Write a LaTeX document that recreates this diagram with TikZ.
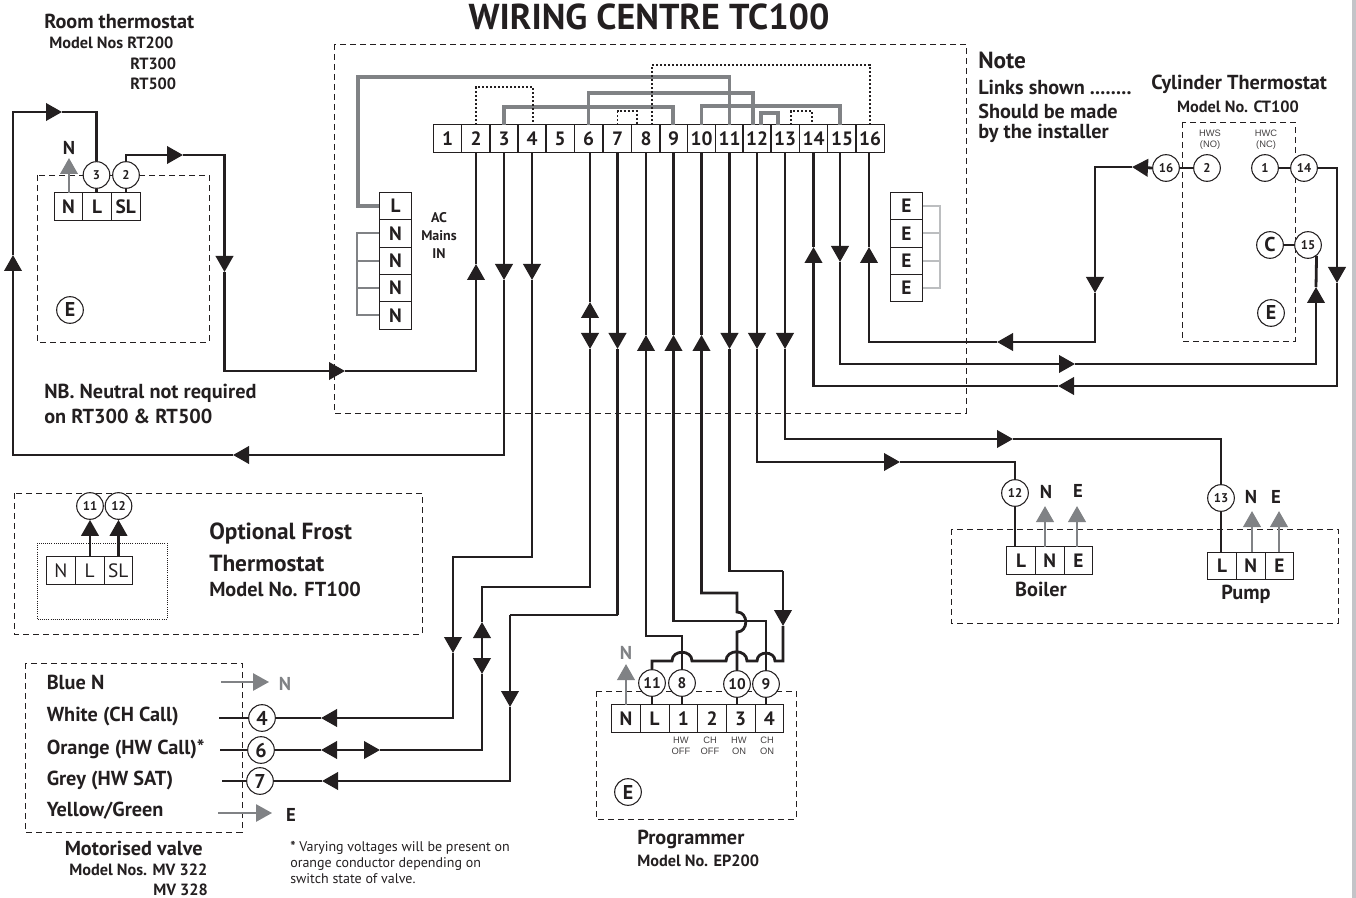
\documentclass[tikz,border=0pt]{standalone}
\usepackage{fontspec}
\setmainfont{PT Sans}
\newfontfamily\thinfont{Liberation Sans}
\usetikzlibrary{arrows.meta,calc,chains,positioning}
\definecolor{wireblack}{HTML}{231F20}
\definecolor{wiregrey}{HTML}{808285}
\definecolor{earthgrey}{HTML}{BCBEC0}
\definecolor{edgegrey}{HTML}{C4C4C8}
\tikzset{
    zone/.style = {
        draw=wireblack,
        line width=0.7pt,
        dash pattern=on 4.5pt off 3pt,
        },
    wire/.style = {
        draw=wireblack,
        line width=2.1pt,
        },
    wire head/.style = {
        wire,
        -{Triangle[length=12pt,width=13pt]},
        },
    wire heads/.style = {
        wire,
        {Triangle[length=12pt,width=13pt]}-{Triangle[length=12pt,width=13pt]},
        },
    grey head/.style = {
        draw=wiregrey,
        line width=2.1pt,
        -{Triangle[length=12pt,width=13pt]},
        },
    link/.style = {
        draw=wiregrey,
        line width=2.3pt,
        },
    thin link/.style = {
        draw=wiregrey,
        line width=1.6pt,
        },
    earth link/.style = {
        draw=earthgrey,
        line width=1.6pt,
        },
    installer link/.style = {
        draw=wireblack,
        line width=1.3pt,
        dash pattern=on 1.5pt off 1.5pt,
        },
    stub/.style = {
        draw=wireblack,
        line width=1.6pt,
        },
    Block/.style = {
        draw=wireblack,
        line width=0.7pt,
        minimum width=21.5pt,
        minimum height=20.5pt,
        inner sep=0pt,
        outer sep=0pt,
        font=\bfseries\fontsize{14.5}{14.5}\selectfont,
        text=wireblack,
        },
    ChainBlock/.style = {Block, on chain},
    WideBlock/.style = {ChainBlock, minimum width=24.5pt},
    pin/.style = {
        circle,
        draw=wireblack,
        fill=white,
        line width=0.8pt,
        minimum size=20pt,
        inner sep=0pt,
        font=\bfseries\fontsize{9.5}{9.5}\selectfont,
        text=wireblack,
        },
    big pin/.style = {
        pin,
        font=\bfseries\fontsize{15}{15}\selectfont,
        },
    prog pin/.style = {
        pin,
        font=\bfseries\fontsize{11.5}{11.5}\selectfont,
        },
    headline/.style = {
        anchor=west,
        inner sep=0pt,
        text=wireblack,
        font=\bfseries\fontsize{15.2}{15.2}\selectfont,
        },
    subline/.style = {
        anchor=west,
        inner sep=0pt,
        text=wireblack,
        font=\bfseries\fontsize{12.2}{12.2}\selectfont,
        },
    bigline/.style = {
        headline,
        font=\bfseries\fontsize{17.5}{17.5}\selectfont,
        },
    letter/.style = {
        inner sep=0pt,
        text=wireblack,
        font=\bfseries\fontsize{14}{14}\selectfont,
        },
    tag/.style = {
        inner sep=0pt,
        text=wireblack!85,
        align=center,
        font=\thinfont\fontsize{7}{8.2}\selectfont,
        },
}

\begin{document}
\begin{tikzpicture}[x=0.75pt,y=-0.75pt]
    \useasboundingbox (0,0) rectangle (1356,898);
    \fill[edgegrey] (1352,0) rectangle (1356,898);

    \node[inner sep=0pt,text=wireblack,font=\bfseries\fontsize{27}{27}\selectfont] (title) at (649,17) {WIRING CENTRE TC100};

    % dashed outlines
    \draw[zone] (334,44) rectangle (966,413);
    \draw[zone] (37,175) rectangle (209,342);
    \draw[zone] (14,493) rectangle (422,634);
    \draw[zone] (25,663) rectangle (242,832);
    \draw[zone] (596,691) rectangle (796,819);
    \draw[zone] (951,529) rectangle (1338,623);
    \draw[zone] (1182,122) rectangle (1295,341);
    \draw[draw=wireblack,line width=0.6pt,densely dotted] (37,543) rectangle (167,619);

    % terminal strip
    \foreach \tx/\tn in {447.5/1,476/2,504/3,532/4,560/5,588.5/6,617.5/7,646/8,673.5/9,701.5/10,729.5/11,757/12,785/13,813.5/14,842/15,870/16}
        \node[Block] (t\tn) at (\tx,138.5) {\tn};

    % mains block
    \begin{scope}[start chain=going below, node distance=0pt]
    \node[WideBlock] (mL) at (395.5,206) {L};
    \node[WideBlock] (mN1) {N};
    \node[WideBlock] (mN2) {N};
    \node[WideBlock] (mN3) {N};
    \node[WideBlock] (mN4) {N};
    \end{scope}
    \begin{scope}[start chain=going below, node distance=0pt]
    \node[WideBlock] (eE1) at (906.5,206) {E};
    \node[WideBlock] (eE2) {E};
    \node[WideBlock] (eE3) {E};
    \node[WideBlock] (eE4) {E};
    \end{scope}
    \node[inner sep=0pt,align=center,text=wireblack,font=\bfseries\fontsize{10.5}{13.5}\selectfont] (acin) at (439,236) {AC\\Mains\\IN};

    % thermostat, frost, programmer, boiler and pump blocks
    \begin{scope}[start chain=going right, node distance=0pt]
    \node[ChainBlock] (rN) at (68.5,206.5) {N};
    \node[ChainBlock] (rL) {L};
    \node[ChainBlock] (rSL) {SL};
    \end{scope}
    \begin{scope}[start chain=going right, node distance=0pt]
    \node[ChainBlock,font=\fontsize{14.5}{14.5}\selectfont] (fN) at (61,570.5) {N};
    \node[ChainBlock,font=\fontsize{14.5}{14.5}\selectfont] (fL) {L};
    \node[ChainBlock,font=\fontsize{14.5}{14.5}\selectfont] (fSL) {SL};
    \end{scope}
    \begin{scope}[start chain=going right, node distance=0pt]
    \node[ChainBlock] (pN) at (626,718.5) {N};
    \node[ChainBlock] (pL) {L};
    \node[ChainBlock] (p1) {1};
    \node[ChainBlock] (p2) {2};
    \node[ChainBlock] (p3) {3};
    \node[ChainBlock] (p4) {4};
    \end{scope}
    \begin{scope}[start chain=going right, node distance=0pt]
    \node[ChainBlock] (bL) at (1021,560.5) {L};
    \node[ChainBlock] (bN) {N};
    \node[ChainBlock] (bE) {E};
    \end{scope}
    \begin{scope}[start chain=going right, node distance=0pt]
    \node[ChainBlock] (uL) at (1222,566) {L};
    \node[ChainBlock] (uN) {N};
    \node[ChainBlock] (uE) {E};
    \end{scope}

    % numbered pins
    \node[pin] (rt3) at (96.5,175) {3};
    \node[pin] (rt2) at (126,175) {2};
    \node[big pin] (rtE) at (70,310) {E};
    \node[pin] (f11) at (90,506) {11};
    \node[pin] (f12) at (118.5,506) {12};
    \node[big pin] (v4) at (262,718) {4};
    \node[big pin] (v6) at (261,750) {6};
    \node[big pin] (v7) at (260,781) {7};
    \node[prog pin] (pc11) at (652,683) {11};
    \node[prog pin] (pc8) at (682,683) {8};
    \node[prog pin] (pc10) at (737,684) {10};
    \node[prog pin] (pc9) at (766,684) {9};
    \node[big pin] (pcE) at (628,792) {E};
    \node[pin] (cy16) at (1166,168) {16};
    \node[pin] (cy2) at (1207,168) {2};
    \node[pin] (cy1) at (1265,168) {1};
    \node[pin] (cy14) at (1304,168) {14};
    \node[big pin] (cyC) at (1270,245) {C};
    \node[pin] (cy15) at (1308,245) {15};
    \node[big pin] (cyE) at (1271,313) {E};
    \node[pin] (bc12) at (1015,493) {12};
    \node[pin] (uc13) at (1221,498) {13};

    % links on the strip
    \coordinate (lk11) at (358,77);
    \coordinate (lk612) at (753,93);
    \coordinate (lk39) at (673,107);
    \coordinate (lk1015) at (840,106);
    \coordinate (lk12) at (761,113);
    \coordinate (lk13) at (778,113);
    \draw[link] (mL.west) -| (lk11) -| (t11.north);
    \draw[link] (t6.north) |- (lk612) -- (lk612 |- t12.north);
    \draw[link] (t3.north) |- (lk39) -- (lk39 |- t9.north);
    \draw[link] (t10.north) |- (lk1015) -- (lk1015 |- t15.north);
    \draw[link] (lk12 |- t12.north) -- (lk12) -- (lk13) -- (lk13 |- t13.north);
    \coordinate (dt24) at (533,87);
    \coordinate (dt78) at (637,111);
    \coordinate (dt816) at (652,65);
    \coordinate (dt13) at (791,111);
    \coordinate (dt14) at (812,111);
    \draw[installer link] (t2.north) |- (dt24) -- (dt24 |- t4.north);
    \draw[installer link] (t7.north) |- (dt78) -- (dt78 |- t8.north);
    \draw[installer link] (dt816 |- t8.north) -- (dt816) -| (t16.north);
    \draw[installer link] (dt13 |- t13.north) -- (dt13) -- (dt14) -- (dt14 |- t14.north);

    % neutral and earth links
    \coordinate (nl) at (357,0);
    \coordinate (el) at (940,0);
    \draw[thin link] (mN1.west) -- (mN1.west -| nl) -- (mN4.west -| nl) -- (mN4.west);
    \draw[thin link] (mN2.west) -- (mN2.west -| nl);
    \draw[thin link] (mN3.west) -- (mN3.west -| nl);
    \draw[earth link] (eE1.east) -- (eE1.east -| el) -- (eE4.east -| el) -- (eE4.east);
    \draw[earth link] (eE2.east) -- (eE2.east -| el);
    \draw[earth link] (eE3.east) -- (eE3.east -| el);

    % wire 2
    \coordinate (w2a) at (183,155);
    \coordinate (w2b) at (224.5,272);
    \coordinate (w2c) at (345,371);
    \coordinate (w2d) at (476,264);
    \draw[wire head] (rt2.north) |- (w2a);
    \draw[wire head] (w2a) -| (w2b);
    \draw[wire head] (w2b) |- (w2c);
    \draw[wire head] (w2c) -| (w2d);
    \draw[wire] (w2d) -- (t2.south);
    % wire 3
    \coordinate (w3a) at (504,280);
    \coordinate (w3b) at (233,455);
    \coordinate (w3c) at (13,255);
    \coordinate (w3d) at (62,112);
    \draw[wire head] (t3.south) -- (w3a);
    \draw[wire head] (w3a) |- (w3b);
    \draw[wire head] (w3b) -| (w3c);
    \draw[wire head] (w3c) |- (w3d);
    \draw[wire] (w3d) -| (rt3.north);
    % wire 4
    \coordinate (w4a) at (532,280);
    \coordinate (w4k) at (453,557);
    \coordinate (w4b) at (453,653);
    \coordinate (w4c) at (321,718);
    \coordinate (w4s) at (219,718);
    \draw[wire head] (t4.south) -- (w4a);
    \draw[wire head] (w4a) |- (w4k) -- (w4b);
    \draw[wire head] (w4b) |- (w4c);
    \draw[wire] (w4c) -- (v4.east);
    \draw[wire] (w4s) -- (v4.west);
    % wire 6
    \coordinate (w6a) at (590,302);
    \coordinate (w6b) at (590,349);
    \coordinate (w6k) at (482,587);
    \coordinate (w6c) at (482,622);
    \coordinate (w6d) at (482,674);
    \coordinate (w6e) at (380,750);
    \coordinate (w6f) at (321,750);
    \coordinate (w6s) at (220,750);
    \draw[wire] (t6.south -| w6a) -- (w6a);
    \draw[wire heads] (w6a) -- (w6b);
    \draw[wire] (w6b) |- (w6k) -- (w6c);
    \draw[wire heads] (w6c) -- (w6d);
    \draw[wire] (w6d) |- (w6e);
    \draw[wire heads] (w6e) -- (w6f);
    \draw[wire] (w6f) -- (v6.east);
    \draw[wire] (w6s) -- (v6.west);
    % wire 7
    \coordinate (w7a) at (617.5,349);
    \coordinate (w7k) at (510,615);
    \coordinate (w7b) at (510,707);
    \coordinate (w7c) at (322,781);
    \coordinate (w7s) at (222,781);
    \draw[wire head] (t7.south) -- (w7a);
    \draw[wire] (w7a) -- (w7a |- w7k);
    \draw[stub] (w7a |- w7k) -- (w7k);
    \draw[wire head] (w7k) -- (w7b);
    \draw[wire head] (w7b) |- (w7c);
    \draw[wire] (w7c) -- (v7.east);
    \draw[wire] (w7s) -- (v7.west);
    % wires 8, 9 and 10
    \coordinate (w8k) at (646,636);
    \coordinate (w8a) at (646,335);
    \coordinate (w9k) at (673.5,621);
    \coordinate (w9a) at (673.5,335);
    \coordinate (w10j) at (737,632);
    \coordinate (w10l) at (737,612);
    \coordinate (w10k) at (701.5,593);
    \coordinate (w10a) at (701.5,335);
    \draw[wire head] (pc8.north) |- (w8k) -- (w8a);
    \draw[wire] (w8a) -- (t8.south);
    \draw[wire head] (pc9.north) |- (w9k) -- (w9a);
    \draw[wire] (w9a) -- (t9.south);
    \draw[wire head] (pc10.north) -- (w10j) to[out=0,in=0,looseness=1.5] (w10l) |- (w10k) -- (w10a);
    \draw[wire] (w10a) -- (t10.south);
    % wire 11
    \coordinate (w11a) at (729.5,349);
    \coordinate (w11k) at (783,571);
    \coordinate (w11b) at (783,626);
    \coordinate (w11c) at (783,661);
    \coordinate (w11d) at (652,661);
    \draw[wire head] (t11.south) -- (w11a);
    \draw[wire] (w11a) |- (w11k);
    \draw[wire head] (w11k) -- (w11b);
    \draw[wire] (w11b) -- (w11c) -- (775,661)
        to[out=90,in=90,looseness=1.5] (757,661) -- (747,661)
        to[out=90,in=90,looseness=1.5] (726,661) -- (692,661)
        to[out=90,in=90,looseness=1.5] (672,661) -- (w11d) -- (pc11.north);
    % wire 12
    \coordinate (w12a) at (757,349);
    \coordinate (w12b) at (900,462);
    \draw[wire head] (t12.south) -- (w12a);
    \draw[wire head] (w12a) |- (w12b);
    \draw[wire] (w12b) -| (bc12.north);
    \draw[wire] (bc12.south) -- (bc12.south |- bL.north);
    % wire 13
    \coordinate (w13a) at (785,349);
    \coordinate (w13b) at (1013,439);
    \draw[wire head] (t13.south) -- (w13a);
    \draw[wire head] (w13a) |- (w13b);
    \draw[wire] (w13b) -| (uc13.north);
    \draw[wire] (uc13.south) -- (uc13.south |- uL.north);
    % wire 14
    \coordinate (w14a) at (1337,283);
    \coordinate (w14b) at (1058,386);
    \coordinate (w14c) at (813.5,247);
    \draw[wire head] (cy14.east) -| (w14a);
    \draw[wire head] (w14a) |- (w14b);
    \draw[wire head] (w14b) -| (w14c);
    \draw[wire] (w14c) -- (t14.south);
    % wire 15
    \coordinate (w15a) at (840,262);
    \coordinate (w15b) at (1075,364);
    \coordinate (w15c) at (1316,287);
    \draw[wire head] (t15.south -| w15a) -- (w15a);
    \draw[wire head] (w15a) |- (w15b);
    \draw[wire head] (w15b) -| (w15c);
    \draw[wire] (w15c) -- (cy15.-52);
    % wire 16
    \coordinate (w16a) at (1132,167);
    \coordinate (w16b) at (1095,293);
    \coordinate (w16c) at (997,342);
    \coordinate (w16d) at (869,247);
    \draw[wire head] (cy16.west) -- (w16a);
    \draw[wire head] (w16a) -| (w16b);
    \draw[wire head] (w16b) |- (w16c);
    \draw[wire head] (w16c) -| (w16d);
    \draw[wire] (w16d) -- (t16.south -| w16d);

    % short connections
    \draw[stub] (rt3) -- (rt3 |- rL.north);
    \draw[stub] (rt2) -- (rt2 |- rSL.north);
    \draw[stub] (pc11.south) -- (pc11.south |- pL.north);
    \draw[stub] (pc8.south) -- (pc8.south |- p1.north);
    \draw[stub] (pc10.south) -- (pc10.south |- p3.north);
    \draw[stub] (pc9.south) -- (pc9.south |- p4.north);
    \draw[wire] (cy16) -- (cy2);
    \draw[wire] (cy1) -- (cy14);
    \draw[wire] (cyC) -- (cy15);

    % frost thermostat leads
    \draw[wire head] (fL.north -| f11) -- (f11.south);
    \draw[wire head] (fSL.north -| f12) -- (f12.south);

    % neutral and earth arrows
    \node[letter] (rNt) at (69,148) {N};
    \coordinate (rNh) at (69,158);
    \draw[grey head] (rNh |- rN.north) -- (rNh);
    \node[letter,text=wiregrey] (pNt) at (626,653) {N};
    \coordinate (pNh) at (626,664);
    \draw[grey head] (pNh |- pN.north) -- (pNh);
    \node[letter] (bNt) at (1046,492) {N};
    \node[letter] (bEt) at (1078,491) {E};
    \coordinate (bNh) at (1045,506);
    \coordinate (bEh) at (1077,506);
    \draw[grey head] (bNh |- bN.north) -- (bNh);
    \draw[grey head] (bEh |- bE.north) -- (bEh);
    \node[letter] (uNt) at (1251,497) {N};
    \node[letter] (uEt) at (1276,497) {E};
    \coordinate (uNh) at (1252,511);
    \coordinate (uEh) at (1279,511);
    \draw[grey head] (uNh |- uN.north) -- (uNh);
    \draw[grey head] (uEh |- uE.north) -- (uEh);
    \node[letter,text=wiregrey] (vNt) at (285,684) {N};
    \node[letter] (vEt) at (291,815) {E};
    \coordinate (vNs) at (221,682);
    \coordinate (vNh) at (269,682);
    \coordinate (vEs) at (218,813);
    \coordinate (vEh) at (272,813);
    \draw[grey head,line width=1.3pt] (vNs) -- (vNh);
    \draw[grey head,line width=1.3pt] (vEs) -- (vEh);

    % texts
    \node[headline] (rtTitle) at (44,21) {Room thermostat};
    \node[subline] (rtModel) at (49,43) {Model Nos RT200};
    \node[subline] (rtModelB) at (130,64) {RT300};
    \node[subline] (rtModelC) at (130,84) {RT500};
    \node[headline] (nbA) at (44,393) {NB. Neutral not required};
    \node[headline] (nbB) at (44,416) {on RT300 \& RT500};
    \node[bigline] (noteT) at (978,60) {Note};
    \node[headline] (noteA) at (978,87) {Links shown ........};
    \node[headline] (noteB) at (978,111) {Should be made};
    \node[headline] (noteC) at (978,133) {by the installer};
    \node[headline] (cyTitle) at (1151,84) {Cylinder Thermostat};
    \node[subline,anchor=center] (cyModel) at (1238,107) {Model No. CT100};
    \node[tag] (hws) at (1210,140) {HWS\\(NO)};
    \node[tag] (hwc) at (1266,140) {HWC\\(NC)};
    \node[headline,anchor=center] (boilerT) at (1041,589) {Boiler};
    \node[headline,anchor=center] (pumpT) at (1246,594) {Pump};
    \node[bigline] (frostA) at (209,534) {Optional Frost};
    \node[bigline] (frostB) at (209,563) {Thermostat};
    \node[headline] (frostC) at (209,589) {Model No. FT100};
    \node[headline] (vBlue) at (46.5,682) {Blue N};
    \node[headline] (vWhite) at (46.5,716) {White (CH Call)};
    \node[headline] (vOrange) at (46.5,749) {Orange (HW Call)*};
    \node[headline] (vGrey) at (46.5,780) {Grey (HW SAT)};
    \node[headline] (vYellow) at (46.5,811) {Yellow/Green};
    \node[headline] (vTitle) at (64.5,848) {Motorised valve};
    \node[subline] (vModel) at (69,870) {Model Nos. MV 322};
    \node[subline] (vModelB) at (153,890) {MV 328};
    \node[inner sep=0pt,anchor=north west,align=left,text=wireblack,font=\fontsize{10.5}{12}\selectfont] (vNote) at (290,841) {\textbf{*} Varying voltages will be present on\\orange conductor depending on\\switch state of valve.};
    \node[tag] (tag1) at (681,746) {HW\\OFF};
    \node[tag] (tag2) at (710,746) {CH\\OFF};
    \node[tag] (tag3) at (739,746) {HW\\ON};
    \node[tag] (tag4) at (767,746) {CH\\ON};
    \node[headline] (pTitle) at (637,839) {Programmer};
    \node[subline] (pModel) at (637,861) {Model No. EP200};
\end{tikzpicture}
\end{document}
